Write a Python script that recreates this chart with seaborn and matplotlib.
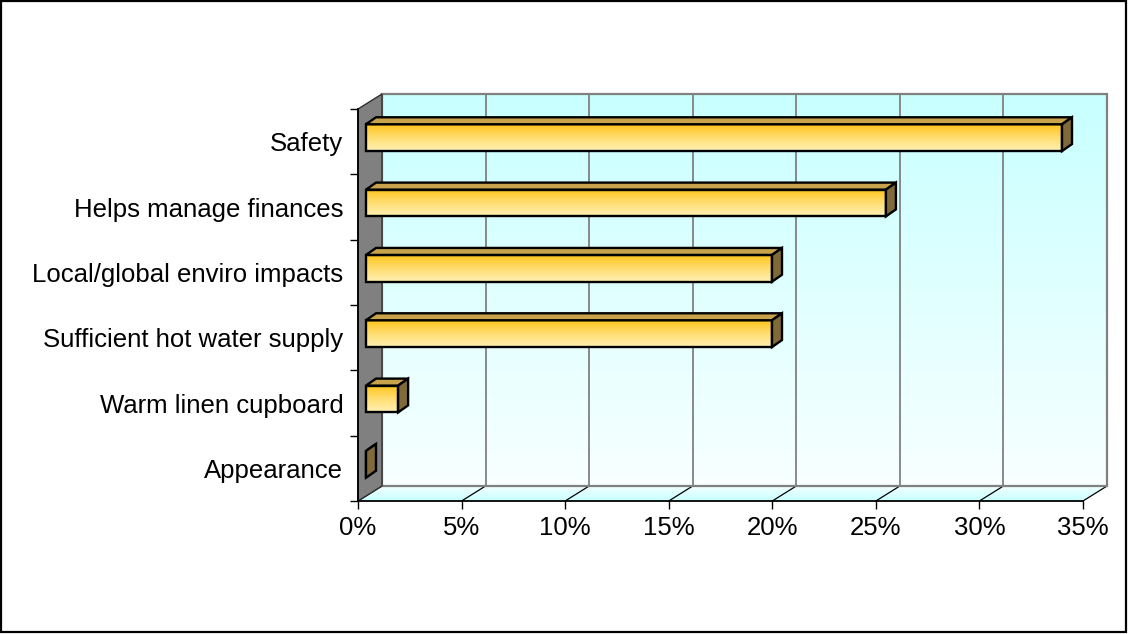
import numpy as np
import pandas as pd
import matplotlib
matplotlib.use("Agg")
import matplotlib.pyplot as plt
import seaborn as sns
from matplotlib.patches import Polygon, Rectangle
from matplotlib.transforms import IdentityTransform, Affine2D
from matplotlib.colors import LinearSegmentedColormap
from matplotlib.ticker import FixedLocator

# ---------------- data ----------------
categories = ["Safety", "Helps manage finances", "Local/global enviro impacts",
              "Sufficient hot water supply", "Warm linen cupboard", "Appearance"]
shares = [33.6, 25.1, 19.6, 19.6, 1.55, 0.0]
x_ticks = [0, 5, 10, 15, 20, 25, 30, 35]
x_tick_labels = [f"{t}%" for t in x_ticks]

df = pd.DataFrame({"category": categories, "share": shares})

# ---------------- style ----------------
W, H, DPI = 1128, 634, 100
sns.set_theme(style="white")
plt.rcParams['font.family'] = ['Liberation Sans', 'DejaVu Sans']
for k in ['text.color', 'xtick.color', 'ytick.color', 'axes.labelcolor']:
    plt.rcParams[k] = 'black'

fig = plt.figure(figsize=(W / DPI, H / DPI), dpi=DPI)
fig.patch.set_facecolor('white')

# front plane (image pixels, y down)
FX0, FX1, FY0, FY1 = 358, 1083, 109, 501
DX, DY = 24, -15            # depth of the back wall
XMAX = 35.0
sx = (FX1 - FX0) / XMAX

bg = fig.add_axes([0, 0, 1, 1], zorder=0)
bg.set_xlim(0, W); bg.set_ylim(H, 0); bg.axis('off')

# back wall gradient
wall_cmap = LinearSegmentedColormap.from_list('wall', ['#C8FFFF', '#F8FFFF'])
grad = np.linspace(0, 1, 256).reshape(-1, 1)
bg.imshow(grad, cmap=wall_cmap, aspect='auto', origin='upper',
          extent=(FX0 + DX, FX1 + DX, FY1 + DY, FY0 + DY), zorder=1)

# floor
floor_cmap = LinearSegmentedColormap.from_list('floor', ['#F2FFFF', '#C8FFFF'])
floor_poly = Polygon([(FX0, FY1), (FX1, FY1), (FX1 + DX, FY1 + DY), (FX0 + DX, FY1 + DY)],
                     closed=True, facecolor='none', edgecolor='none')
bg.add_patch(floor_poly)
fim = bg.imshow(grad, cmap=floor_cmap, aspect='auto', origin='upper',
                extent=(FX0, FX1 + DX, FY1, FY1 + DY), zorder=1)
fim.set_clip_path(floor_poly)

# back wall gridlines and border
for t in x_ticks[1:-1]:
    xb = FX0 + DX + t * sx
    bg.plot([xb, xb], [FY0 + DY, FY1 + DY], color='#808080', lw=1.3, zorder=2)
bg.add_patch(Rectangle((FX0 + DX, FY0 + DY), FX1 - FX0, FY1 - FY0, fill=False,
                       edgecolor='#808080', lw=1.6, zorder=3))
# floor diagonal gridlines
for t in x_ticks:
    xf = FX0 + t * sx
    bg.plot([xf, xf + DX], [FY1, FY1 + DY], color='black', lw=0.9, zorder=2)

# left wall
bg.add_patch(Polygon([(FX0, FY0), (FX0 + DX, FY0 + DY), (FX0 + DX, FY1 + DY), (FX0, FY1)],
                     closed=True, facecolor='#808080', edgecolor='#303030', lw=1.0, zorder=4))

# outer frame
bg.add_patch(Rectangle((1, 1), W - 3, H - 3, fill=False, edgecolor='black', lw=1.6, zorder=5))
bg.set_xlim(0, W); bg.set_ylim(H, 0)

# ---------------- main axes ----------------
ax = fig.add_axes([FX0 / W, (H - FY1) / H, (FX1 - FX0) / W, (FY1 - FY0) / H], zorder=1)
ax.set_facecolor('none')

sns.barplot(data=df, x="share", y="category", orient='h', width=0.41,
            color='#FFD040', ax=ax)

ax.set_xlim(0, XMAX)
ax.set_ylim(len(categories) - 0.5, -0.5)

bar_off = ax.transData + Affine2D().translate(8, 4)
front_cmap = LinearSegmentedColormap.from_list('front', ['#FFC41C', '#FFDD70', '#FFF2B4'])
TDX, TDY = 10, 7   # bar depth (display px, y up)

bars = list(ax.patches)
for p in bars:
    x0, y0, w, h = p.get_x(), p.get_y(), p.get_width(), p.get_height()
    p.set_transform(bar_off)
    p.set_facecolor('none')
    p.set_edgecolor('black')
    p.set_linewidth(1.7)
    p.set_zorder(4)
    p.set_clip_on(False)
    if w > 0:
        im = ax.imshow(grad, cmap=front_cmap, aspect='auto', origin='upper',
                       extent=(x0, x0 + w, y0 + h, y0), transform=bar_off, zorder=3)
        im.set_clip_on(False)
    corners = bar_off.transform([(x0, y0), (x0 + w, y0), (x0 + w, y0 + h), (x0, y0 + h)])
    ys = corners[:, 1]
    ytop, ybot = ys.max(), ys.min()
    xl, xr = corners[:, 0].min(), corners[:, 0].max()
    top = [(xl, ytop), (xr, ytop), (xr + TDX, ytop + TDY), (xl + TDX, ytop + TDY)]
    side = [(xr, ybot), (xr, ytop), (xr + TDX, ytop + TDY), (xr + TDX, ybot + TDY)]
    ax.add_patch(Polygon(top, closed=True, facecolor='#C9A24C', edgecolor='black',
                         lw=1.7, transform=IdentityTransform(), clip_on=False, zorder=4))
    ax.add_patch(Polygon(side, closed=True, facecolor='#806A3A', edgecolor='black',
                         lw=1.7, transform=IdentityTransform(), clip_on=False, zorder=4))

ax.set_xlim(0, XMAX)
ax.set_ylim(len(categories) - 0.5, -0.5)

ax.set_xticks(x_ticks)
ax.set_xticklabels(x_tick_labels)
ax.set_yticks(range(len(categories)))
ax.set_yticklabels(categories)
ax.yaxis.set_minor_locator(FixedLocator(np.arange(-0.5, len(categories), 1.0)))
ax.tick_params(axis='x', which='major', direction='out', length=5.8, width=1.0,
               color='black', labelsize=18.5, pad=5, bottom=True)
ax.tick_params(axis='y', which='major', length=0, labelsize=18.5, pad=10.5, left=True)
ax.tick_params(axis='y', which='minor', direction='out', length=5.8, width=1.0,
               color='black', left=True)
ax.set_xlabel('')
ax.set_ylabel('')
for s in ['top', 'right']:
    ax.spines[s].set_visible(False)
for s in ['left', 'bottom']:
    ax.spines[s].set_visible(True)
    ax.spines[s].set_color('black')
    ax.spines[s].set_linewidth(1.3)
    ax.spines[s].set_zorder(6)

fig.savefig('out.png', dpi=DPI, facecolor='white')
